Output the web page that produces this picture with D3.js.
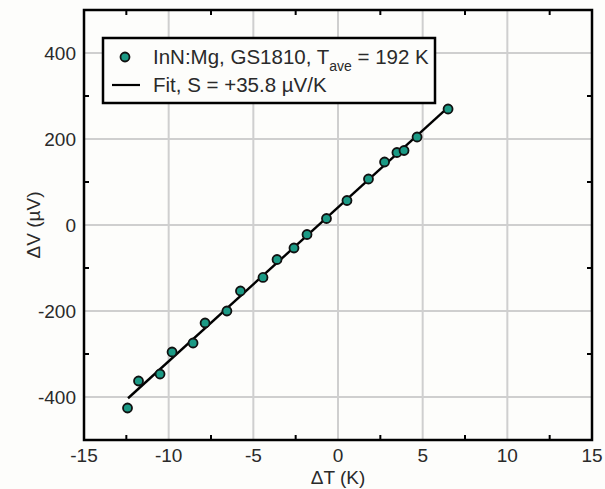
<!DOCTYPE html>
<html>
<head>
<meta charset="utf-8">
<script src="https://cdn.jsdelivr.net/npm/d3@7"></script>
<style>
  body { margin: 0; background: #fdfdfb; }
  svg { display: block; font-family: "Liberation Sans", Arial, sans-serif; }
  .grid line { stroke: #cfcfcf; stroke-width: 2; }
  .tick-label { fill: #2a2a2a; font-size: 19px; }
</style>
</head>
<body>
<svg></svg>
<script>
// ---------- data ----------
const dT = [-12.43, -11.78, -10.51, -9.80, -8.56, -7.85, -6.56, -5.76, -4.43, -3.60,
            -2.60, -1.83, -0.68, 0.53, 1.80, 2.75, 3.48, 3.90, 4.67, 6.50];
const dV = [-425.6, -362.8, -346.5, -295.3, -274.4, -227.9, -200.0, -153.5, -122.0, -80.2,
            -53.5, -22.1, 15.1, 57.0, 107.0, 146.5, 168.6, 173.3, 204.7, 269.8];
const fitSlope = 35.8;        // µV/K
const fitIntercept = 41;      // µV
const fitRange = [-12.4, 6.5];
const xTicks = [-15, -10, -5, 0, 5, 10, 15];
const yTicks = [-400, -200, 0, 200, 400];
const xMinor = [-12.5, -7.5, -2.5, 2.5, 7.5, 12.5];
const yMinor = [-300, -100, 100, 300];

const width = 605, height = 489;
const m = { left: 84, right: 592, top: 10, bottom: 440 };

const svg = d3.select('svg').attr('width', width).attr('height', height);

const x = d3.scaleLinear().domain([-15, 15]).range([m.left, m.right]);
const y = d3.scaleLinear().domain([-500, 500]).range([m.bottom, m.top]);

//-------grid
const grid = svg.append('g').attr('class', 'grid');
grid.selectAll('.gx').data(xTicks.slice(1, -1)).enter().append('line')
    .attr('x1', d => x(d)).attr('x2', d => x(d))
    .attr('y1', m.top).attr('y2', m.bottom);
grid.selectAll('.gy').data(yTicks).enter().append('line')
    .attr('y1', d => y(d)).attr('y2', d => y(d))
    .attr('x1', m.left).attr('x2', m.right);

//-------minor ticks, inside on all four sides
const tl = 5;
const ticks = svg.append('g').attr('stroke', '#000').attr('stroke-width', 2);
xMinor.forEach(d => {
  ticks.append('line').attr('x1', x(d)).attr('x2', x(d)).attr('y1', m.bottom).attr('y2', m.bottom - tl);
  ticks.append('line').attr('x1', x(d)).attr('x2', x(d)).attr('y1', m.top).attr('y2', m.top + tl);
});
yMinor.forEach(d => {
  ticks.append('line').attr('y1', y(d)).attr('y2', y(d)).attr('x1', m.left).attr('x2', m.left + tl);
  ticks.append('line').attr('y1', y(d)).attr('y2', y(d)).attr('x1', m.right).attr('x2', m.right - tl);
});

//-------tick labels
svg.selectAll('.xl').data(xTicks).enter().append('text')
    .attr('class', 'tick-label')
    .attr('x', d => x(d)).attr('y', m.bottom + 22)
    .attr('text-anchor', 'middle')
    .text(d => d);
svg.selectAll('.yl').data(yTicks).enter().append('text')
    .attr('class', 'tick-label')
    .attr('x', m.left - 8).attr('y', d => y(d) + 7)
    .attr('text-anchor', 'end')
    .text(d => d);

//-------axis titles
svg.append('text').attr('class', 'tick-label')
    .attr('x', x(0)).attr('y', 484)
    .attr('text-anchor', 'middle')
    .text('ΔT (K)');
svg.append('text').attr('class', 'tick-label')
    .attr('transform', `translate(40,${y(0)}) rotate(-90)`)
    .attr('text-anchor', 'middle')
    .text('ΔV (µV)');

//-------fit line
const fitLine = d3.line().x(d => x(d)).y(d => y(fitSlope * d + fitIntercept));
svg.append('path')
    .datum(fitRange)
    .attr('d', fitLine)
    .attr('fill', 'none').attr('stroke', '#000').attr('stroke-width', 2.4);

//-------data points
const markerFill = '#1b9a85';
svg.selectAll('.pt').data(dT).enter().append('circle')
    .attr('cx', d => x(d))
    .attr('cy', (d, i) => y(dV[i]))
    .attr('r', 4.5)
    .attr('fill', markerFill)
    .attr('stroke', '#111').attr('stroke-width', 1.8);

//-------frame
svg.append('rect')
    .attr('x', m.left).attr('y', m.top)
    .attr('width', m.right - m.left).attr('height', m.bottom - m.top)
    .attr('fill', 'none').attr('stroke', '#000').attr('stroke-width', 2.5);

//-------legend
const lg = svg.append('g');
lg.append('rect')
    .attr('x', 103).attr('y', 38).attr('width', 332).attr('height', 65)
    .attr('fill', '#fdfdfb').attr('stroke', '#000').attr('stroke-width', 2.5);
lg.append('circle')
    .attr('cx', 125).attr('cy', 57).attr('r', 4.5)
    .attr('fill', markerFill).attr('stroke', '#111').attr('stroke-width', 1.8);
const t1 = lg.append('text').attr('class', 'tick-label').attr('x', 153).attr('y', 64).style('font-size', '20.5px');
t1.append('tspan').text('InN:Mg, GS1810, T');
t1.append('tspan').attr('dy', 7).style('font-size', '14px').text('ave');
t1.append('tspan').attr('dy', -7).text(' = 192 K');
lg.append('line')
    .attr('x1', 112).attr('x2', 140).attr('y1', 85).attr('y2', 85)
    .attr('stroke', '#000').attr('stroke-width', 2.2);
lg.append('text').attr('class', 'tick-label').attr('x', 153).attr('y', 92)
    .style('font-size', '20.5px')
    .text('Fit, S = +35.8 µV/K');
</script>
</body>
</html>
